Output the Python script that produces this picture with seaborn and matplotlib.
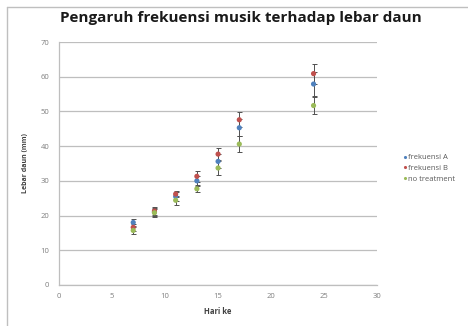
import numpy as np
import pandas as pd
import matplotlib
matplotlib.use('Agg')
import matplotlib.pyplot as plt
import seaborn as sns
from matplotlib.lines import Line2D

# data
hari = [7, 9, 11, 13, 15, 17, 24]
frek_a = [18.0, 21.0, 25.5, 30.0, 35.6, 45.3, 57.9]
frek_b = [16.6, 21.3, 26.2, 31.3, 37.7, 47.6, 60.9]
no_treat = [15.7, 20.8, 24.4, 27.7, 33.7, 40.6, 51.7]
err_a = [1.0, 1.2, 1.2, 1.5, 2.0, 2.5, 3.4]
err_b = [1.0, 1.2, 1.0, 1.6, 1.7, 2.1, 2.9]
err_c = [1.0, 1.2, 1.3, 1.0, 1.9, 2.4, 2.5]
series = ['frekuensi A', 'frekuensi B', 'no treatment']
colors = ['#4F81BD', '#C0504D', '#9BBB59']

df = pd.DataFrame({
    'Hari ke': hari * 3,
    'Lebar': frek_a + frek_b + no_treat,
    'err': err_a + err_b + err_c,
    'Seri': np.repeat(series, len(hari)),
})

sns.set_style('white')
plt.rcParams['font.family'] = ['Open Sans', 'DejaVu Sans']

fig = plt.figure(figsize=(4.68, 3.26), dpi=100)
ax = fig.add_axes([0.126, 0.126, 0.68, 0.745])

# error bars first, then markers
for s, c in zip(series, colors):
    sub = df[df['Seri'] == s]
    ax.errorbar(sub['Hari ke'], sub['Lebar'], yerr=sub['err'], fmt='none',
                ecolor='#505050', elinewidth=0.7, capsize=1.8, capthick=0.7, zorder=2)

sns.scatterplot(data=df, x='Hari ke', y='Lebar', hue='Seri', palette=colors,
                marker='o', s=14, edgecolor='none', ax=ax, zorder=3, legend=True)

ax.set_xlim(0, 30)
ax.set_ylim(0, 70)
ax.set_xticks(range(0, 31, 5))
ax.set_yticks(range(0, 71, 10))
ax.yaxis.grid(True, color='#BEBEBE', linewidth=0.9)
ax.xaxis.grid(False)
for side in ['top', 'right']:
    ax.spines[side].set_visible(False)
for side in ['left', 'bottom']:
    ax.spines[side].set_color('#BEBEBE')
    ax.spines[side].set_linewidth(0.9)
ax.tick_params(axis='both', labelsize=5.5, colors='#7F7F7F', length=0)
ax.tick_params(axis='x', pad=6)
ax.tick_params(axis='y', pad=7)
ax.set_xlabel('Hari ke', fontsize=5.5, fontweight='bold', color='#404040', labelpad=5)
ax.set_ylabel('Lebar daun (mm)', fontsize=5, fontweight='bold', color='#404040', labelpad=8)

leg = ax.legend(loc='center left', bbox_to_anchor=(1.055, 0.48), frameon=False,
                fontsize=5.5, markerscale=0.6, handletextpad=0.1, labelspacing=0.45,
                handlelength=0.8)
for t in leg.get_texts():
    t.set_color('#595959')

fig.text(0.128, 0.945, 'Pengaruh frekuensi musik terhadap lebar daun',
         fontsize=11, fontweight='bold', color='#1a1a1a', va='center', ha='left')

# outer chart border (left and top edges visible)
fig.add_artist(Line2D([7 / 468, 7 / 468], [0, 1 - 7 / 326], color='#BFBFBF', linewidth=1))
fig.add_artist(Line2D([7 / 468, 1], [1 - 7 / 326, 1 - 7 / 326], color='#BFBFBF', linewidth=1))

fig.savefig('out.png', dpi=100)
